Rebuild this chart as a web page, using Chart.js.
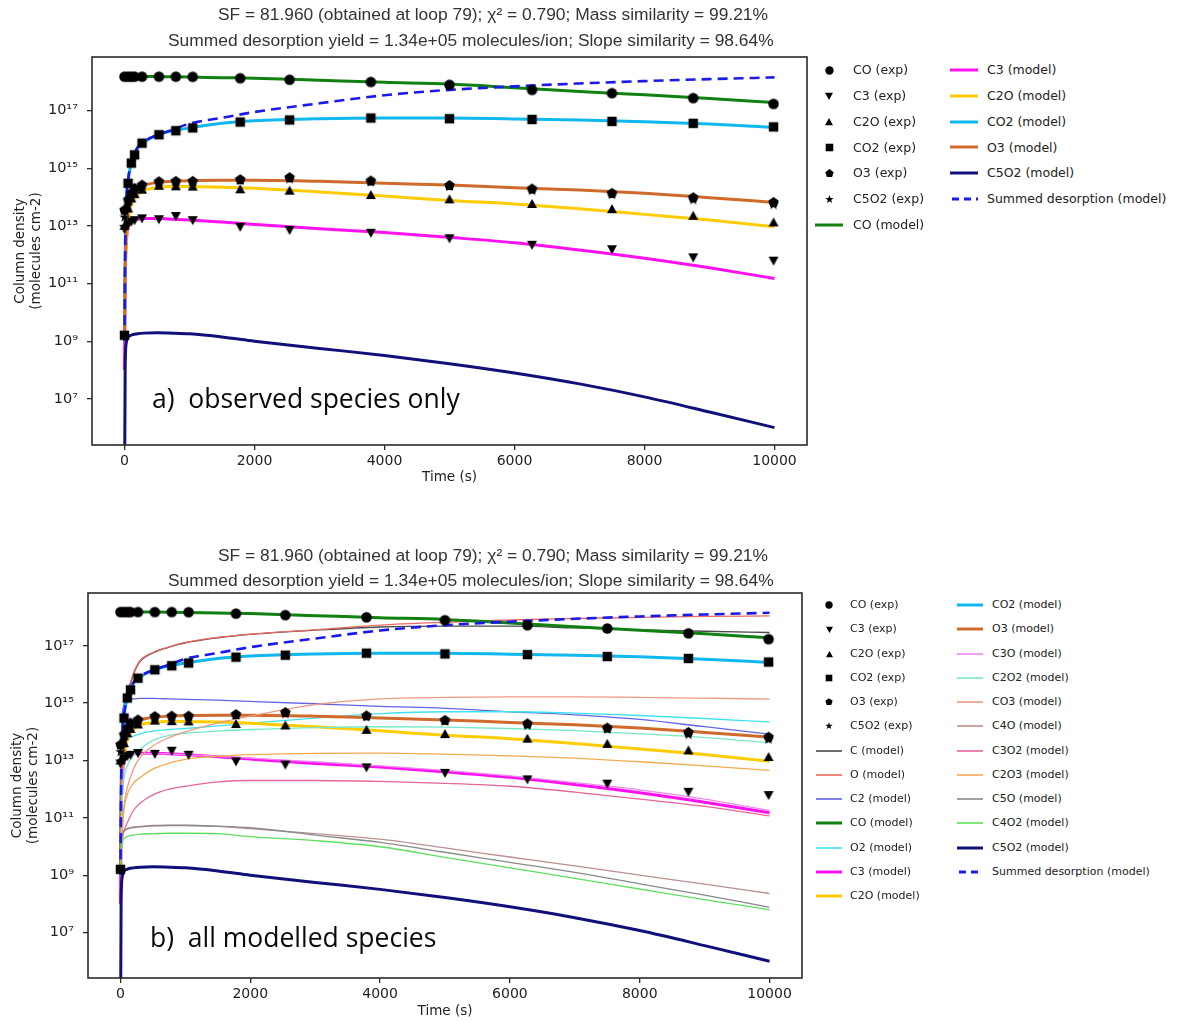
<!DOCTYPE html>
<html>
<head>
<meta charset="utf-8">
<script src="https://cdn.jsdelivr.net/npm/chart.js@4.4.1/dist/chart.umd.min.js"></script>
<style>
  html, body { margin: 0; padding: 0; background: #fff; }
  #page { position: relative; width: 1177px; height: 1025px; overflow: hidden; font-family: "DejaVu Sans", sans-serif; color: #222; }
  canvas.plot { position: absolute; left: 0; }
  .title { position: absolute; font-family: "Liberation Sans", sans-serif; font-size: 17.4px; line-height: 20px; color: #333; white-space: nowrap; }
  .tag { position: absolute; font-family: "Open Sans", sans-serif; font-size: 26.5px; line-height: 32px; color: #0a0a0a; white-space: nowrap; }
  .lg-text { position: absolute; white-space: nowrap; color: #222; }
  .lg-handle { position: absolute; }
</style>
</head>
<body>
<div id="page">
  <canvas id="chartTop" class="plot" width="830" height="500" style="top:0px"></canvas>
  <canvas id="chartBottom" class="plot" width="830" height="485" style="top:540px"></canvas>

  <div class="title" style="left:218px; top:4px">SF = 81.960 (obtained at loop 79); χ² = 0.790; Mass similarity = 99.21%</div>
  <div class="title" style="left:168px; top:30px">Summed desorption yield = 1.34e+05 molecules/ion; Slope similarity = 98.64%</div>
  <div class="title" style="left:218px; top:545px">SF = 81.960 (obtained at loop 79); χ² = 0.790; Mass similarity = 99.21%</div>
  <div class="title" style="left:168px; top:570px">Summed desorption yield = 1.34e+05 molecules/ion; Slope similarity = 98.64%</div>

  <div class="tag" style="left:152px; top:382px">a)&nbsp; observed species only</div>
  <div class="tag" style="left:150px; top:921px">b)&nbsp; all modelled species</div>
</div>

<script>
// ---- data ----
const expTime = [0, 55, 105, 155, 270, 530, 790, 1050, 1780, 2540, 3790, 5000, 6270, 7500, 8750, 9985];
const coExp   = [1.5e18, 1.5e18, 1.5e18, 1.5e18, 1.5e18, 1.5e18, 1.5e18, 1.48e18, 1.32e18, 1.17e18, 9.8e17, 7.8e17, 5.2e17, 4.0e17, 2.7e17, 1.7e17];
const c3Exp   = [7.9e12, 1.12e13, 1.41e13, 1.58e13, 1.82e13, 1.7e13, 2.19e13, 1.58e13, 9.3e12, 7.2e12, 5.75e12, 3.7e12, 2.2e12, 1.55e12, 8.1e11, 6.2e11];
const c2oExp  = [1.0e13, 4.0e13, 8.9e13, 1.26e14, 1.8e14, 2.45e14, 2.35e14, 2.3e14, 1.86e14, 1.66e14, 1.17e14, 8.3e13, 5.75e13, 3.8e13, 2.24e13, 1.32e13];
const co2Exp  = [1.6e9, 3.0e14, 1.5e15, 2.9e15, 7.4e15, 1.45e16, 2.0e16, 2.5e16, 4.0e16, 4.7e16, 5.5e16, 5.2e16, 4.9e16, 4.2e16, 3.6e16, 2.7e16];
const o3Exp   = [3.5e13, 7.9e13, 1.35e14, 2.0e14, 2.6e14, 3.4e14, 3.5e14, 3.5e14, 4.0e14, 4.7e14, 3.6e14, 2.5e14, 1.9e14, 1.35e14, 9.5e13, 6.5e13];
const c5o2Exp = [2.0e13, 5.0e13, 1.0e14, 1.58e14, 2.5e14, 3.2e14, 3.4e14, 3.4e14, 3.7e14, 4.2e14, 3.3e14, 2.3e14, 1.66e14, 1.2e14, 7.9e13, 5.4e13];

const modelTime = [0, 10, 25, 50, 100, 200, 300, 500, 750, 1000, 1500, 2000, 3000, 4000, 5000, 6000, 7000, 8000, 9000, 10000];
const coModel   = [1.51e18, 1.51e18, 1.51e18, 1.51e18, 1.51e18, 1.51e18, 1.51e18, 1.5e18, 1.48e18, 1.45e18, 1.38e18, 1.32e18, 1.12e18, 9.5e17, 8.3e17, 6.2e17, 4.6e17, 3.5e17, 2.6e17, 1.9e17];
const c3Model   = [1e8, 1e11, 2e12, 8e12, 1.4e13, 1.7e13, 1.8e13, 1.8e13, 1.7e13, 1.6e13, 1.35e13, 1.12e13, 7.9e12, 5.9e12, 4.0e12, 2.6e12, 1.45e12, 7.5e11, 3.5e11, 1.5e11];
const c2oModel  = [1e9, 1e11, 2e12, 1.2e13, 5e13, 1.2e14, 1.7e14, 2.1e14, 2.3e14, 2.3e14, 2.2e14, 2.0e14, 1.5e14, 1.08e14, 7.6e13, 5.75e13, 3.9e13, 2.5e13, 1.6e13, 9.3e12];
const co2Model  = [1e9, 1e12, 5e13, 2.8e14, 1.4e15, 5e15, 8e15, 1.4e16, 2.0e16, 2.5e16, 3.6e16, 4.4e16, 5.2e16, 5.5e16, 5.5e16, 5.1e16, 4.7e16, 4.1e16, 3.4e16, 2.6e16];
const o3Model   = [1e9, 3e11, 5e12, 2.5e13, 8e13, 1.8e14, 2.5e14, 3.2e14, 3.5e14, 3.7e14, 3.8e14, 3.8e14, 3.5e14, 3.0e14, 2.6e14, 2.1e14, 1.75e14, 1.35e14, 9.5e13, 6.5e13];
const c5o2Model = [1e3, 1e8, 8e8, 1.3e9, 1.6e9, 1.8e9, 1.9e9, 1.95e9, 1.9e9, 1.8e9, 1.4e9, 1.0e9, 5.6e8, 3.2e8, 1.66e8, 7.9e7, 3.3e7, 1.17e7, 3.5e6, 1.0e6];
const sumModel  = [1e9, 1e12, 5e13, 3e14, 1.5e15, 5.2e15, 8.5e15, 1.4e16, 2.2e16, 3.5e16, 5.6e16, 8.9e16, 1.78e17, 3.4e17, 5.2e17, 6.9e17, 8.7e17, 1.05e18, 1.23e18, 1.41e18];

// species that only appear in panel b
const cModel    = [1e9, 1e12, 3e13, 3e14, 1.6e15, 1e16, 2.8e16, 5.6e16, 8.9e16, 1.26e17, 1.9e17, 2.5e17, 3.5e17, 4.5e17, 4.8e17, 4.8e17, 4.2e17, 3.6e17, 3.2e17, 2.9e17];
const oModel    = [1e9, 1e12, 3e13, 3.2e14, 1.8e15, 1.1e16, 3.0e16, 5.8e16, 9.1e16, 1.3e17, 1.95e17, 2.55e17, 3.6e17, 5.25e17, 6.6e17, 7.9e17, 8.9e17, 9.8e17, 1.05e18, 1.1e18];
const c2Model   = [1e9, 1e13, 3e14, 8e14, 1.26e15, 1.4e15, 1.45e15, 1.45e15, 1.4e15, 1.35e15, 1.26e15, 1.15e15, 9.5e14, 7.7e14, 6.6e14, 5.0e14, 3.9e14, 2.7e14, 1.5e14, 8.3e13];
const o2Model   = [1e9, 1e11, 2e12, 1e13, 4.5e13, 7e13, 8.5e13, 1.05e14, 1.2e14, 1.3e14, 1.6e14, 2.0e14, 3.0e14, 4.3e14, 5.0e14, 5.0e14, 4.5e14, 3.7e14, 2.9e14, 2.2e14];
const c3oModel  = [1e9, 3e10, 1e12, 5e12, 1.2e13, 1.6e13, 1.7e13, 1.75e13, 1.7e13, 1.6e13, 1.4e13, 1.2e13, 9e12, 6.5e12, 4.5e12, 2.9e12, 1.7e12, 9.5e11, 4.5e11, 1.8e11];
const c2o2Model = [1e9, 1e10, 3e11, 2e12, 6e12, 1.6e13, 2.5e13, 5e13, 7.5e13, 8.9e13, 1.05e14, 1.2e14, 1.4e14, 1.5e14, 1.45e14, 1.3e14, 1.1e14, 8.5e13, 6.3e13, 4.2e13];
const co3Model  = [1e9, 1e10, 3e10, 2e11, 1e12, 5e12, 1.26e13, 3.2e13, 6.3e13, 1e14, 2e14, 3.5e14, 8.9e14, 1.4e15, 1.58e15, 1.66e15, 1.66e15, 1.58e15, 1.48e15, 1.38e15];
const c4oModel  = [1e9, 1e10, 2.5e10, 3.5e10, 4.2e10, 4.8e10, 5e10, 5.4e10, 5.5e10, 5.5e10, 5e10, 4.2e10, 2.8e10, 1.8e10, 8.9e9, 4.3e9, 2.1e9, 1e9, 4.9e8, 2.3e8];
const c3o2Model = [1e9, 1e10, 1.6e10, 3.2e10, 6.3e10, 1.8e11, 3.2e11, 6.3e11, 1e12, 1.26e12, 1.8e12, 2e12, 2e12, 1.86e12, 1.6e12, 1.26e12, 7.9e11, 4.5e11, 2.5e11, 1.17e11];
const c2o3Model = [1e9, 3e9, 2e10, 1.5e11, 6e11, 1.6e12, 2.5e12, 5e12, 8e12, 1.1e13, 1.4e13, 1.6e13, 1.78e13, 1.8e13, 1.65e13, 1.45e13, 1.2e13, 9e12, 6.5e12, 4.5e12];
const c5oModel  = [1e9, 1e10, 2.4e10, 3.3e10, 4e10, 4.6e10, 4.8e10, 5.2e10, 5.4e10, 5.4e10, 5.1e10, 4.5e10, 2.5e10, 1.4e10, 6.3e9, 2.8e9, 1.26e9, 5e8, 2e8, 7.6e7];
const c4o2Model = [1e9, 5e9, 1.3e10, 1.8e10, 2.2e10, 2.5e10, 2.7e10, 2.8e10, 2.9e10, 2.9e10, 2.8e10, 2.2e10, 1.6e10, 9.8e9, 4.2e9, 1.8e9, 7.8e8, 3.3e8, 1.4e8, 6.2e7];

const xTickVals = [0, 2000, 4000, 6000, 8000, 10000];
const yTickVals = [1e7, 1e9, 1e11, 1e13, 1e15, 1e17];

// ---- styling ----
const FONT = '"DejaVu Sans", sans-serif';
const SUP = { '0': '⁰', '1': '¹', '2': '²', '3': '³', '4': '⁴', '5': '⁵', '6': '⁶', '7': '⁷', '8': '⁸', '9': '⁹', '-': '⁻' };

function makeMarker(shape, size) {
  const c = document.createElement('canvas');
  c.width = c.height = Math.ceil(size) + 4;
  const g = c.getContext('2d');
  const m = c.width / 2;
  const r = size / 2;
  g.fillStyle = '#000';
  g.beginPath();
  if (shape === 'circle') {
    g.arc(m, m, r, 0, Math.PI * 2);
  } else if (shape === 'square') {
    g.rect(m - r * 0.9, m - r * 0.9, r * 1.8, r * 1.8);
  } else if (shape === 'triUp') {
    g.moveTo(m, m - r); g.lineTo(m + r, m + r * 0.8); g.lineTo(m - r, m + r * 0.8);
  } else if (shape === 'triDown') {
    g.moveTo(m, m + r); g.lineTo(m + r, m - r * 0.8); g.lineTo(m - r, m - r * 0.8);
  } else if (shape === 'pentagon') {
    for (let k = 0; k < 5; k++) {
      const a = -Math.PI / 2 + k * 2 * Math.PI / 5;
      g.lineTo(m + r * Math.cos(a), m + r * Math.sin(a));
    }
  } else if (shape === 'star') {
    for (let k = 0; k < 10; k++) {
      const a = -Math.PI / 2 + k * Math.PI / 5;
      const rr = k % 2 ? r * 0.42 : r * 1.05;
      g.lineTo(m + rr * Math.cos(a), m + rr * Math.sin(a));
    }
  }
  g.closePath();
  g.fill();
  return c;
}

const expSeries = [
  { label: 'CO (exp)', data: coExp, shape: 'circle', size: 10.5 },
  { label: 'C3 (exp)', data: c3Exp, shape: 'triDown', size: 10 },
  { label: 'C2O (exp)', data: c2oExp, shape: 'triUp', size: 10 },
  { label: 'CO2 (exp)', data: co2Exp, shape: 'square', size: 10.5 },
  { label: 'O3 (exp)', data: o3Exp, shape: 'pentagon', size: 11 },
  { label: 'C5O2 (exp)', data: c5o2Exp, shape: 'star', size: 10.5 }
];

const MODEL = {
  C:    { label: 'C (model)', data: cModel, color: '#4a4a4a', width: 1.3 },
  O:    { label: 'O (model)', data: oModel, color: '#ee6a60', width: 1.3 },
  C2:   { label: 'C2 (model)', data: c2Model, color: '#6464e6', width: 1.3 },
  CO:   { label: 'CO (model)', data: coModel, color: '#108010', width: 3 },
  O2:   { label: 'O2 (model)', data: o2Model, color: '#3fe3ee', width: 1.3 },
  C3:   { label: 'C3 (model)', data: c3Model, color: '#ff10f0', width: 3 },
  C2O:  { label: 'C2O (model)', data: c2oModel, color: '#ffcc00', width: 3 },
  CO2:  { label: 'CO2 (model)', data: co2Model, color: '#10b8f0', width: 3 },
  O3:   { label: 'O3 (model)', data: o3Model, color: '#d06a2a', width: 3 },
  C3O:  { label: 'C3O (model)', data: c3oModel, color: '#ee88ee', width: 1.3 },
  C2O2: { label: 'C2O2 (model)', data: c2o2Model, color: '#76e8c8', width: 1.3 },
  CO3:  { label: 'CO3 (model)', data: co3Model, color: '#eb9a80', width: 1.3 },
  C4O:  { label: 'C4O (model)', data: c4oModel, color: '#bc9090', width: 1.3 },
  C3O2: { label: 'C3O2 (model)', data: c3o2Model, color: '#e8649e', width: 1.3 },
  C2O3: { label: 'C2O3 (model)', data: c2o3Model, color: '#f4aa50', width: 1.3 },
  C5O:  { label: 'C5O (model)', data: c5oModel, color: '#8a8a8a', width: 1.3 },
  C4O2: { label: 'C4O2 (model)', data: c4o2Model, color: '#5ee05e', width: 1.3 },
  C5O2: { label: 'C5O2 (model)', data: c5o2Model, color: '#10107a', width: 3 },
  SUM:  { label: 'Summed desorption (model)', data: sumModel, color: '#1a1aee', width: 2.6, dash: [10, 6] }
};

const topModels = ['CO', 'C3', 'C2O', 'CO2', 'O3', 'C5O2', 'SUM'];
const bottomModels = ['C', 'O', 'C2', 'CO', 'O2', 'C3', 'C2O', 'CO2', 'O3', 'C3O', 'C2O2', 'CO3', 'C4O', 'C3O2', 'C2O3', 'C5O', 'C4O2', 'C5O2', 'SUM'];

const frameBox = {
  id: 'frameBox',
  afterDraw(chart) {
    const { ctx, chartArea: a } = chart;
    ctx.save();
    ctx.strokeStyle = '#2a2a2a';
    ctx.lineWidth = 1.6;
    ctx.strokeRect(a.left, a.top, a.right - a.left, a.bottom - a.top);
    ctx.restore();
  }
};

function buildDatasets(modelKeys) {
  const sets = [];
  expSeries.forEach((s) => {
    sets.push({
      label: s.label,
      data: expTime.map((t, i) => ({ x: t, y: s.data[i] })),
      showLine: false,
      pointStyle: makeMarker(s.shape, s.size),
      pointRadius: 5,
      order: 0
    });
  });
  modelKeys.forEach((key, i) => {
    const m = MODEL[key];
    sets.push({
      label: m.label,
      data: modelTime.map((t, j) => ({ x: t, y: m.data[j] })),
      borderColor: m.color,
      borderWidth: m.width,
      borderDash: m.dash || [],
      pointRadius: 0,
      fill: false,
      cubicInterpolationMode: 'monotone',
      order: 100 - i
    });
  });
  return sets;
}

function makeChart(canvasId, modelKeys, box) {
  const canvas = document.getElementById(canvasId);
  return new Chart(canvas.getContext('2d'), {
    type: 'line',
    data: { datasets: buildDatasets(modelKeys) },
    options: {
      responsive: false,
      animation: false,
      devicePixelRatio: 1,
      layout: { padding: { top: box.top, right: canvas.width - box.right, left: 0, bottom: 0 } },
      plugins: { legend: { display: false }, tooltip: { enabled: false }, title: { display: false } },
      scales: {
        x: {
          type: 'linear',
          min: -500,
          max: 10500,
          afterBuildTicks: (axis) => { axis.ticks = xTickVals.map((v) => ({ value: v })); },
          afterFit: (axis) => { axis.height = canvas.height - box.bottom; },
          grid: { drawOnChartArea: false, drawTicks: true, tickLength: 5, color: '#2a2a2a', lineWidth: 1.3 },
          border: { display: false },
          ticks: {
            font: { family: FONT, size: 14 }, color: '#222', padding: 3, maxRotation: 0, autoSkip: false,
            callback: (v) => String(v)
          },
          title: {
            display: true, text: 'Time (s)', color: '#222',
            font: { family: FONT, size: 13.5, lineHeight: 1.2 },
            padding: { top: 0, bottom: box.xTitlePad }
          }
        },
        y: {
          type: 'logarithmic',
          min: box.yMin,
          max: box.yMax,
          afterBuildTicks: (axis) => { axis.ticks = yTickVals.map((v) => ({ value: v })); },
          afterFit: (axis) => { axis.width = box.left; },
          grid: { drawOnChartArea: false, drawTicks: true, tickLength: 5, color: '#2a2a2a', lineWidth: 1.3 },
          border: { display: false },
          ticks: {
            font: { family: FONT, size: 14.5 }, color: '#222', padding: 9, autoSkip: false,
            callback: (v) => '10' + String(Math.round(Math.log10(v))).split('').map((ch) => SUP[ch]).join('')
          },
          title: {
            display: true, text: ['Column density', '(molecules cm-2)'], color: '#222',
            font: { family: FONT, size: 13.5, lineHeight: 1.2 },
            padding: { top: box.yTitlePad, bottom: 0 }
          }
        }
      }
    },
    plugins: [frameBox]
  });
}

makeChart('chartTop', topModels, {
  left: 92, right: 807, top: 57, bottom: 445,
  yMin: 2.5e5, yMax: 7.2e18, xTitlePad: 14, yTitlePad: 12
});
makeChart('chartBottom', bottomModels, {
  left: 88, right: 802, top: 53, bottom: 438,
  yMin: 2.6e5, yMax: 6.9e18, xTitlePad: 5, yTitlePad: 9
});

// ---- legends (two columns, no frame) ----
function addLegend(modelKeys, cfg) {
  const page = document.getElementById('page');
  const entries = expSeries.map((s) => ({ label: s.label, marker: s }))
    .concat(modelKeys.map((k) => ({ label: MODEL[k].label, line: MODEL[k] })));
  entries.forEach((e, i) => {
    const col = i < cfg.perCol ? 0 : 1;
    const row = col === 0 ? i : i - cfg.perCol;
    const y = cfg.y0 + row * cfg.dy;
    const hx = cfg.handleX[col];
    const hw = cfg.handleW;
    const h = document.createElement('canvas');
    h.className = 'lg-handle';
    h.width = hw;
    h.height = 16;
    h.style.left = hx + 'px';
    h.style.top = (y - 8) + 'px';
    const g = h.getContext('2d');
    if (e.marker) {
      const img = makeMarker(e.marker.shape, e.marker.size * cfg.markerScale);
      g.drawImage(img, Math.round(hw / 2 - img.width / 2), Math.round(8 - img.height / 2));
    } else {
      g.strokeStyle = e.line.color;
      g.lineWidth = e.line.width >= 2.5 ? 3 : 1.6;
      g.setLineDash(e.line.dash ? [7, 5] : []);
      g.beginPath();
      g.moveTo(e.line.dash ? 2 : 0, 8);
      g.lineTo(hw, 8);
      g.stroke();
    }
    page.appendChild(h);
    const t = document.createElement('div');
    t.className = 'lg-text';
    t.textContent = e.label;
    t.style.left = cfg.textX[col] + 'px';
    t.style.top = (y - cfg.font * 0.62) + 'px';
    t.style.fontSize = cfg.font + 'px';
    t.style.lineHeight = Math.round(cfg.font * 1.25) + 'px';
    page.appendChild(t);
  });
}

addLegend(topModels, {
  perCol: 7, y0: 70, dy: 25.8, handleX: [815, 950], handleW: 28, textX: [853, 987], font: 12.5, markerScale: 0.8
});
addLegend(bottomModels, {
  perCol: 13, y0: 605, dy: 24.25, handleX: [816, 957], handleW: 26, textX: [850, 992], font: 11, markerScale: 0.7
});
</script>
</body>
</html>
